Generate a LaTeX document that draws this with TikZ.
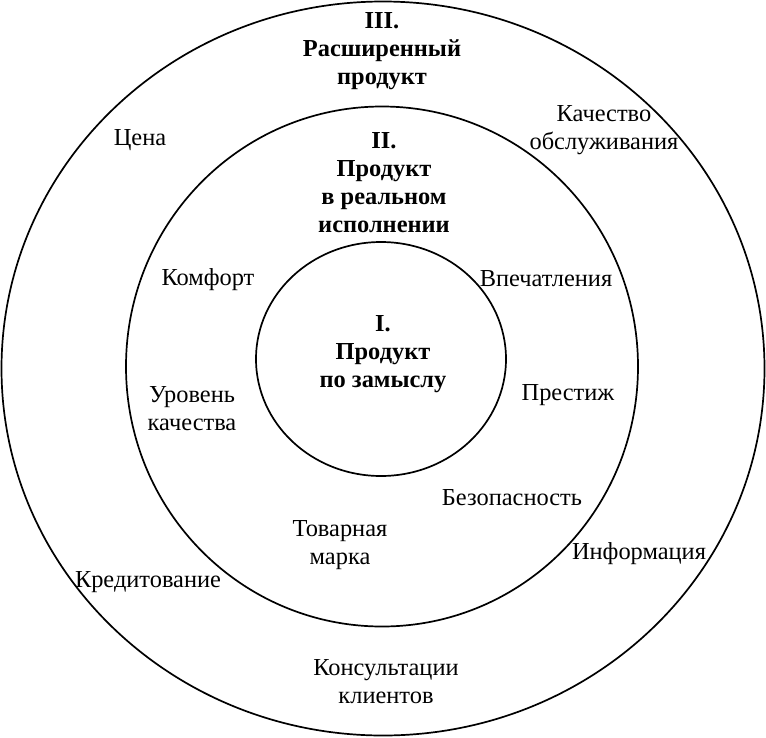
\documentclass[tikz,border=0pt]{standalone}
\usepackage{fontspec}
\setmainfont{Liberation Serif}
\begin{document}
\begin{tikzpicture}[x=1pt,y=-1pt,
  ring/.style={line width=1.7pt},
  lbl/.style={inner sep=0pt,align=center,font=\fontsize{24.4}{28}\selectfont},
  head/.style={lbl,font=\fontsize{24.4}{28}\selectfont\bfseries}]
\useasboundingbox (0,0) rectangle (766,737);
\draw[ring] (383,368.5) ellipse [x radius=381.5, y radius=367];
\draw[ring] (382,366.5) ellipse [x radius=256, y radius=260];
\draw[ring] (381,359) ellipse [x radius=125, y radius=117];
% headings
\node[head] (h3) at (382,51) {III.\\Расширенный\\продукт};
\node[head] (h2) at (384,183) {II.\\Продукт\\в реальном\\исполнении};
\node[head] (h1) at (383,354) {I.\\Продукт\\по замыслу};
% outer ring
\node[lbl] (cena) at (140,140) {Цена};
\node[lbl] (kach) at (604,130) {Качество\\обслуживания};
\node[lbl] (info) at (639,554) {Информация};
\node[lbl] (kred) at (148,582) {Кредитование};
\node[lbl] (kons) at (386,682) {Консультации\\клиентов};
% middle ring
\node[lbl] (komf) at (208,280) {Комфорт};
\node[lbl] (vpech) at (546,279) {Впечатления};
\node[lbl] (urov) at (192,409) {Уровень\\качества};
\node[lbl] (prest) at (568,395) {Престиж};
\node[lbl] (bez) at (512,498) {Безопасность};
\node[lbl] (tov) at (340,545) {Товарная\\марка};
\end{tikzpicture}
\end{document}
